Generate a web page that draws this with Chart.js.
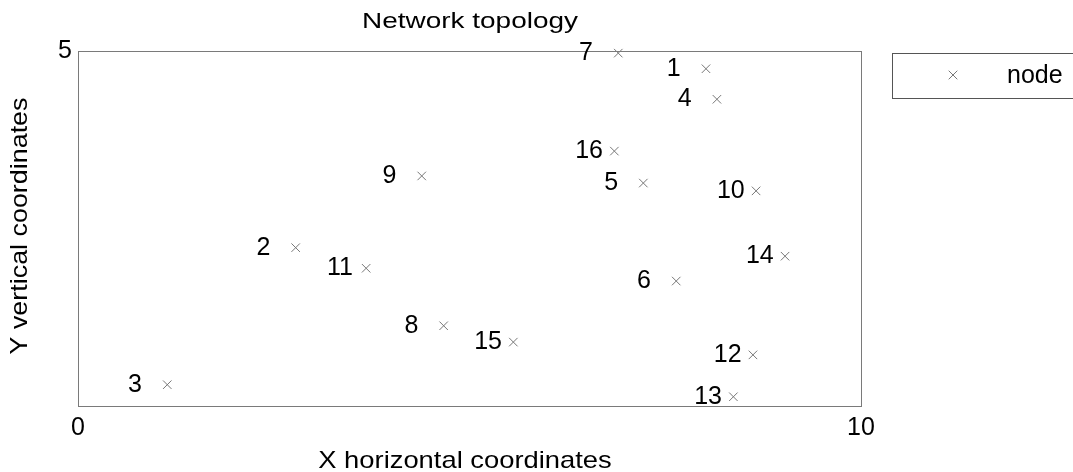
<!DOCTYPE html>
<html><head><meta charset="utf-8">
<script src="https://cdn.jsdelivr.net/npm/chart.js@4/dist/chart.umd.min.js"></script>
<style>html,body{margin:0;padding:0;background:#fff;overflow:hidden}</style>
</head><body>
<canvas id="c" width="1073" height="472" style="display:block;width:1073px;height:472px"></canvas>
<script>
const nodeLabels = ['1','2','3','4','5','6','7','8','9','10','11','12','13','14','15','16'];
const xValues = [8.02, 2.78, 1.14, 8.16, 7.22, 7.64, 6.90, 4.67, 4.39, 8.66, 3.68, 8.62, 8.37, 9.03, 5.56, 6.85];
const yValues = [4.75, 2.23, 0.30, 4.32, 3.14, 1.76, 4.97, 1.13, 3.24, 3.03, 1.94, 0.72, 0.13, 2.11, 0.90, 3.59];
const xTicks = [0, 10];
const yTicks = [5];
const seriesName = 'node';
const chartTitle = 'Network topology';
const xTitle = 'X horizontal coordinates';
const yTitle = 'Y vertical coordinates';

const FONT = '"Liberation Sans", Arial, sans-serif';
const points = xValues.map((x, i) => ({x: x, y: yValues[i]}));

function wideText(ctx, text, x, y, sx) {
  ctx.save();
  ctx.translate(x, y);
  ctx.scale(sx, 1);
  ctx.fillText(text, 0, 0);
  ctx.restore();
}

const decor = {
  id: 'decor',
  afterDraw(chart) {
    const ctx = chart.ctx, a = chart.chartArea;
    const xs = chart.scales.x;
    ctx.save();
    // frame
    ctx.strokeStyle = '#7a7a7a';
    ctx.lineWidth = 1;
    ctx.strokeRect(Math.round(a.left) + 0.5, Math.round(a.top) + 0.5, Math.round(a.right - a.left), Math.round(a.bottom - a.top));
    ctx.fillStyle = '#000';
    ctx.textAlign = 'center';
    ctx.textBaseline = 'middle';
    // title
    ctx.font = '22px ' + FONT;
    wideText(ctx, chartTitle, 470, 22, 1.27);
    // x title
    ctx.font = '24px ' + FONT;
    wideText(ctx, xTitle, 465, 461, 1.14);
    // y title
    ctx.save();
    ctx.translate(20, 226);
    ctx.rotate(-Math.PI / 2);
    ctx.scale(1.12, 1);
    ctx.fillText(yTitle, 0, 0);
    ctx.restore();
    // node labels
    ctx.font = '25px ' + FONT;
    ctx.textAlign = 'left';
    const meta = chart.getDatasetMeta(0);
    meta.data.forEach((el, i) => {
      const lx = xs.getPixelForValue(xValues[i] - 0.5);
      ctx.fillText(nodeLabels[i], lx, el.y);
    });
    // legend
    ctx.strokeStyle = '#555';
    ctx.strokeRect(892.5, 53.5, 200, 45);
    ctx.strokeStyle = '#777';
    const mx = 953, my = 75, r = 4.3;
    ctx.beginPath();
    ctx.moveTo(mx - r, my - r); ctx.lineTo(mx + r, my + r);
    ctx.moveTo(mx - r, my + r); ctx.lineTo(mx + r, my - r);
    ctx.stroke();
    ctx.fillStyle = '#000';
    ctx.font = '25px ' + FONT;
    ctx.textAlign = 'left';
    ctx.fillText(seriesName, 1007, 76);
    ctx.restore();
  }
};

new Chart(document.getElementById('c'), {
  type: 'scatter',
  data: {
    datasets: [{
      label: seriesName,
      data: points,
      pointStyle: 'crossRot',
      pointRadius: 6,
      pointHoverRadius: 6,
      borderColor: '#777',
      backgroundColor: '#777',
      pointBorderWidth: 1,
      clip: false
    }]
  },
  options: {
    responsive: false,
    animation: false,
    devicePixelRatio: 1,
    layout: {padding: {top: 51, right: 212, bottom: 0, left: 0}},
    plugins: {legend: {display: false}, title: {display: false}, tooltip: {enabled: false}},
    scales: {
      x: {
        type: 'linear', min: 0, max: 10,
        grid: {display: false, drawTicks: false},
        border: {display: false},
        ticks: {font: {size: 25, family: FONT}, color: '#000', padding: 7, maxRotation: 0},
        afterBuildTicks: s => { s.ticks = xTicks.map(v => ({value: v})); },
        afterFit: s => { s.height = 66; }
      },
      y: {
        type: 'linear', min: 0, max: 5,
        grid: {display: false, drawTicks: false},
        border: {display: false},
        ticks: {font: {size: 25, family: FONT}, color: '#000', padding: 6},
        afterBuildTicks: s => { s.ticks = yTicks.map(v => ({value: v})); },
        afterFit: s => { s.width = 78; }
      }
    }
  },
  plugins: [decor]
});
</script>
</body></html>
